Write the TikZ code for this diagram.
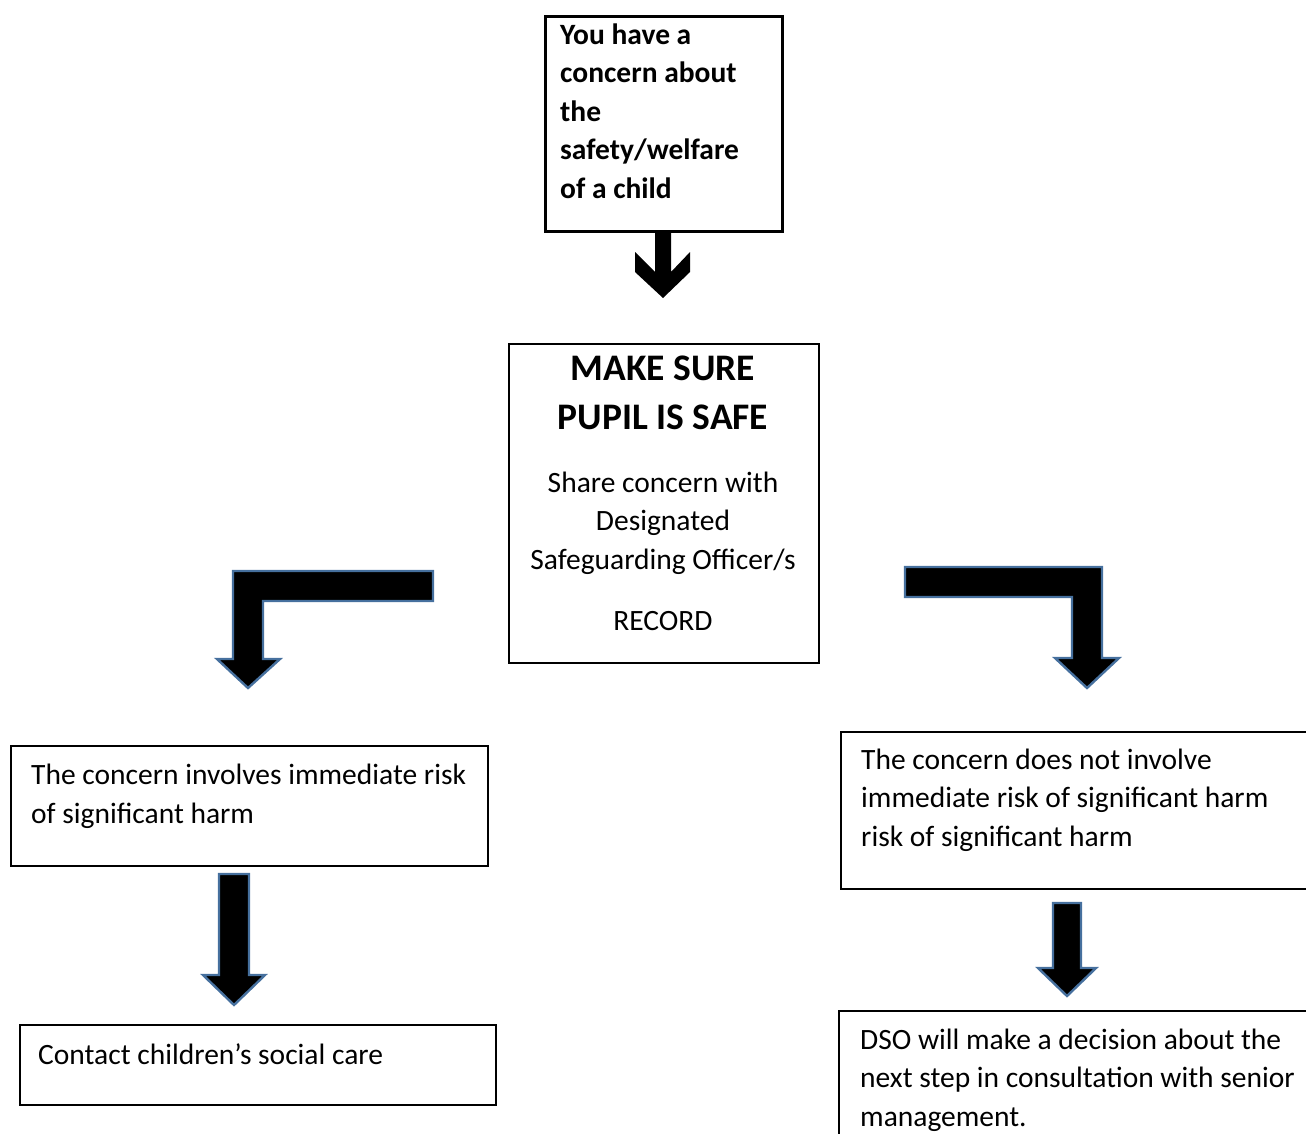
\documentclass[tikz,border=0pt]{standalone}
\usepackage{fontspec}
\setmainfont{Carlito}
\usetikzlibrary{positioning}
\tikzset{box/.style = {draw, line width = 1.8, inner sep = 0, anchor = north west}}
\tikzset{txt/.style = {inner sep = 0, align = left, anchor = base west,
                       font = \fontsize{29.5}{38.5}\selectfont}}
\tikzset{blockarrow/.style = {fill = black, draw = arrowblue, line width = 2.4, line join = miter}}
\definecolor{arrowblue}{RGB}{70, 112, 158}

\begin{document}
\begin{tikzpicture}[x = 1pt, y = -1pt]
    \useasboundingbox (0, 0) rectangle (1306, 1133);
    \clip (0, 0) rectangle (1306, 1133);

    % boxes
    \node [box, line width = 2.6, minimum width = 237, minimum height = 215] (concern) at (544, 15) {};
    \node [box, minimum width = 310, minimum height = 319] (safe) at (508, 343) {};
    \node [box, minimum width = 477, minimum height = 120] (risk) at (10, 745) {};
    \node [box, minimum width = 476, minimum height = 80] (social) at (19, 1024) {};
    \node [box, minimum width = 500, minimum height = 157] (norisk) at (840, 731) {};
    \node [box, minimum width = 500, minimum height = 160] (dso) at (838, 1010) {};

    % texts (anchored at the baseline of their last line)
    \node [txt, font = \fontsize{29.5}{38.5}\bfseries] (concerntext) at (560, 198)
        {You have a\\concern about\\the\\safety/welfare\\of a child};
    \node [txt, align = center, anchor = base, font = \fontsize{37.5}{49}\bfseries] (safehead) at (663, 429)
        {MAKE SURE\\PUPIL IS SAFE};
    \node [txt, align = center, anchor = base] (sharetext) at (663, 569)
        {Share concern with\\Designated\\Safeguarding Officer/s};
    \node [txt, align = center, anchor = base] (recordtext) at (663, 630) {RECORD};
    \node [txt] (risktext) at (31, 823) {The concern involves immediate risk\\of significant harm};
    \node [txt] (socialtext) at (38, 1064) {Contact children’s social care};
    \node [txt] (norisktext) at (861, 846)
        {The concern does not involve\\immediate risk of significant harm\\risk of significant harm};
    \node [txt] (dsotext) at (860, 1126)
        {DSO will make a decision about the\\next step in consultation with senior\\management.};

    % arrows
    \fill (655, 231) -- (655, 272) -- (635, 252) -- (635, 272) -- (663, 298) -- (690, 272)
        -- (690, 252) -- (671, 272) -- (671, 231) -- cycle;
    \draw [blockarrow] (433, 571) -- (233, 571) -- (233, 659) -- (217, 659) -- (248, 688)
        -- (280, 659) -- (263, 659) -- (263, 601) -- (433, 601) -- cycle;
    \draw [blockarrow] (905, 567) -- (1102, 567) -- (1102, 658) -- (1119, 658) -- (1087, 688)
        -- (1055, 658) -- (1072, 658) -- (1072, 597) -- (905, 597) -- cycle;
    \draw [blockarrow] (219, 874) -- (249, 874) -- (249, 975) -- (265, 975) -- (234, 1005)
        -- (203, 975) -- (219, 975) -- cycle;
    \draw [blockarrow] (1053, 903) -- (1081, 903) -- (1081, 968) -- (1096, 968) -- (1067, 996)
        -- (1038, 968) -- (1053, 968) -- cycle;
\end{tikzpicture}
\end{document}
